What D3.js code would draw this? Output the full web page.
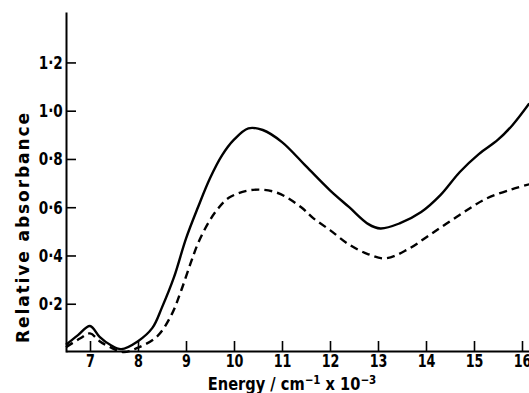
<!DOCTYPE html>
<html>
<head>
<meta charset="utf-8">
<script src="https://cdn.jsdelivr.net/npm/d3@7"></script>
<style>
  html, body { margin: 0; padding: 0; background: #fff; }
  svg { display: block; }
  .tick text { font-family: "DejaVu Sans", sans-serif; font-weight: bold; font-size: 17px; fill: #000; }
  .title { font-family: "DejaVu Sans", sans-serif; font-weight: bold; fill: #000; }
</style>
</head>
<body>
<div id="chart"></div>
<script>
// energy (cm^-1 x 10^-3) and relative absorbance
const solidEnergy = [6.5, 6.75, 7.0, 7.2, 7.42, 7.65, 8.0, 8.3, 8.5, 8.75, 9.0, 9.25, 9.5, 9.75, 10.0, 10.3, 10.6, 11.0, 11.5, 12.0, 12.4, 12.8, 13.05, 13.45, 13.9, 14.3, 14.7, 15.1, 15.5, 15.8, 16.15];
const solidValue = [0.03, 0.07, 0.108, 0.063, 0.03, 0.012, 0.045, 0.10, 0.185, 0.31, 0.47, 0.60, 0.72, 0.815, 0.88, 0.927, 0.92, 0.87, 0.77, 0.67, 0.6, 0.53, 0.512, 0.533, 0.58, 0.65, 0.745, 0.82, 0.88, 0.94, 1.03];

const dashEnergy = [6.5, 6.8, 7.0, 7.2, 7.42, 7.7, 8.0, 8.4, 8.7, 8.9, 9.1, 9.25, 9.45, 9.65, 9.9, 10.4, 10.9, 11.4, 11.65, 12.0, 12.4, 12.8, 13.15, 13.6, 14.1, 14.7, 15.25, 15.8, 16.15];
const dashValue = [0.02, 0.057, 0.077, 0.045, 0.02, 0.0, 0.018, 0.065, 0.155, 0.255, 0.37, 0.45, 0.53, 0.59, 0.64, 0.672, 0.66, 0.60, 0.555, 0.505, 0.445, 0.405, 0.388, 0.423, 0.488, 0.568, 0.635, 0.675, 0.695];

const xTicks = [7, 8, 9, 10, 11, 12, 13, 14, 15, 16];
const yTicks = [0.2, 0.4, 0.6, 0.8, 1.0, 1.2];

const width = 529, height = 393;
const margin = { left: 66, right: 529, top: 12, bottom: 352 };

const svg = d3.select('#chart').append('svg')
  .attr('width', width)
  .attr('height', height);

const x = d3.scaleLinear()
  .domain([6.5, 6.5 + (margin.right - margin.left) / 48])
  .range([margin.left, margin.right]);

const y = d3.scaleLinear()
  .domain([0, (margin.bottom - margin.top) / 241.3])
  .range([margin.bottom, margin.top]);

// axes, ticks pointing inwards
const gx = svg.append('g')
  .attr('transform', `translate(0,${margin.bottom - 1})`)
  .call(d3.axisBottom(x).tickValues(xTicks).tickSizeInner(-10).tickSizeOuter(0).tickPadding(4)
    .tickFormat(d3.format('d')));

const gy = svg.append('g')
  .attr('transform', `translate(${margin.left},0)`)
  .call(d3.axisLeft(y).tickValues(yTicks).tickSizeInner(-10).tickSizeOuter(0).tickPadding(3)
    .tickFormat(d => d3.format('.1f')(d).replace('.', '\u00b7')));

[gx, gy].forEach(g => {
  g.select('.domain').attr('stroke', '#000').attr('stroke-width', 2);
  g.selectAll('.tick line').attr('stroke', '#000').attr('stroke-width', 1.6);
});
// the printed typeface is a narrow grotesque, squeeze the labels sideways
gx.selectAll('.tick text').attr('transform', 'scale(0.75,1)');
gy.selectAll('.tick text').attr('dy', '0.35em').attr('x', -4).attr('transform', 'scale(0.8,1)');

// curves
const line = d3.line()
  .x(d => x(d[0]))
  .y(d => y(d[1]))
  .curve(d3.curveCatmullRom.alpha(0.5));

svg.append('path')
  .datum(d3.zip(solidEnergy, solidValue))
  .attr('fill', 'none')
  .attr('stroke', '#000')
  .attr('stroke-width', 2.4)
  .attr('d', line);

svg.append('path')
  .datum(d3.zip(dashEnergy, dashValue))
  .attr('fill', 'none')
  .attr('stroke', '#000')
  .attr('stroke-width', 2.4)
  .attr('stroke-dasharray', '8,5')
  .attr('d', line);

// axis titles
const xt = svg.append('text')
  .attr('class', 'title')
  .attr('transform', 'translate(292,390) scale(0.86,1)')
  .attr('text-anchor', 'middle')
  .style('font-size', '17px');
xt.append('tspan').text('Energy / cm');
xt.append('tspan').attr('dy', -6).style('font-size', '12px').text('\u22121');
xt.append('tspan').attr('dy', 6).text(' x 10');
xt.append('tspan').attr('dy', -6).style('font-size', '12px').text('\u22123');

svg.append('text')
  .attr('class', 'title')
  .attr('transform', 'translate(29,228) rotate(-90)')
  .attr('text-anchor', 'middle')
  .attr('textLength', 230)
  .attr('lengthAdjust', 'spacing')
  .style('font-size', '17px')
  .text('Relative absorbance');
</script>
</body>
</html>
